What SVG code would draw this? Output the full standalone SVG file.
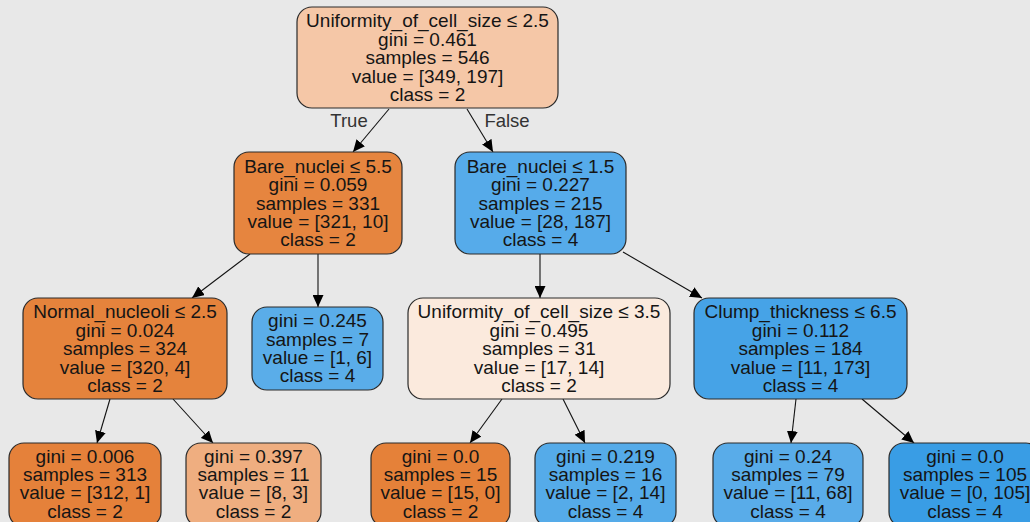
<svg xmlns="http://www.w3.org/2000/svg" width="1030" height="522" viewBox="0 0 1030 522">
<style>
.n rect{stroke:#2a2a2a;stroke-width:1.2}
text{font-family:"Liberation Sans",Arial,sans-serif;font-size:19px;fill:#151515;text-anchor:middle}
.lbl{font-size:18.5px;fill:#333}
.e line{stroke:#111;stroke-width:1.1;marker-end:url(#ah)}
</style>
<defs>
<marker id="ah" markerUnits="userSpaceOnUse" markerWidth="12" markerHeight="11" refX="12" refY="5.5" orient="auto">
<path d="M0,0 L12,5.5 L0,11 z" fill="#000"/>
</marker>
</defs>
<rect width="1030" height="522" fill="#e8e8e8"/>
<g id="connectors" class="e">
<line x1="389" y1="109" x2="353" y2="152"/>
<line x1="467" y1="109" x2="493" y2="152"/>
<line x1="250" y1="254" x2="192" y2="298"/>
<line x1="318" y1="254" x2="318" y2="307"/>
<line x1="540" y1="254" x2="540" y2="298"/>
<line x1="623" y1="252" x2="702" y2="298"/>
<line x1="110" y1="399" x2="97" y2="443"/>
<line x1="173" y1="399" x2="213" y2="443"/>
<line x1="502" y1="399" x2="470" y2="443"/>
<line x1="563" y1="399" x2="585" y2="443"/>
<line x1="796" y1="399" x2="791" y2="443"/>
<line x1="862" y1="399" x2="914" y2="443"/>
<text class="lbl" x="349" y="127">True</text>
<text class="lbl" x="507" y="127">False</text>
</g>
<g id="n0" class="n"><rect x="297" y="7" width="261" height="101" rx="15" fill="#f5c7a7"/>
<text x="427.5" y="27">Uniformity_of_cell_size ≤ 2.5</text><text x="427.5" y="46">gini = 0.461</text><text x="427.5" y="64">samples = 546</text><text x="427.5" y="82.5">value = [349, 197]</text><text x="427.5" y="101">class = 2</text></g>
<g id="n1" class="n"><rect x="234" y="152" width="168" height="102" rx="15" fill="#e6853f"/>
<text x="318" y="172.5">Bare_nuclei ≤ 5.5</text><text x="318" y="191">gini = 0.059</text><text x="318" y="209.5">samples = 331</text><text x="318" y="228">value = [321, 10]</text><text x="318" y="246">class = 2</text></g>
<g id="n2" class="n"><rect x="455" y="152" width="171" height="102" rx="15" fill="#56abea"/>
<text x="540.5" y="172.5">Bare_nuclei ≤ 1.5</text><text x="540.5" y="191">gini = 0.227</text><text x="540.5" y="209.5">samples = 215</text><text x="540.5" y="228">value = [28, 187]</text><text x="540.5" y="246">class = 4</text></g>
<g id="n3" class="n"><rect x="23" y="298" width="204" height="101" rx="15" fill="#e5833c"/>
<text x="125" y="318">Normal_nucleoli ≤ 2.5</text><text x="125" y="337">gini = 0.024</text><text x="125" y="355">samples = 324</text><text x="125" y="373.5">value = [320, 4]</text><text x="125" y="392">class = 2</text></g>
<g id="n4" class="n"><rect x="252" y="307" width="131" height="83" rx="15" fill="#5aade9"/>
<text x="317.5" y="327">gini = 0.245</text><text x="317.5" y="345.5">samples = 7</text><text x="317.5" y="364">value = [1, 6]</text><text x="317.5" y="382">class = 4</text></g>
<g id="n5" class="n"><rect x="408" y="298" width="262" height="101" rx="15" fill="#fbeadd"/>
<text x="539" y="318">Uniformity_of_cell_size ≤ 3.5</text><text x="539" y="337">gini = 0.495</text><text x="539" y="355">samples = 31</text><text x="539" y="373.5">value = [17, 14]</text><text x="539" y="392">class = 2</text></g>
<g id="n6" class="n"><rect x="694" y="298" width="213" height="101" rx="15" fill="#46a3e7"/>
<text x="800.5" y="318">Clump_thickness ≤ 6.5</text><text x="800.5" y="337">gini = 0.112</text><text x="800.5" y="355">samples = 184</text><text x="800.5" y="373.5">value = [11, 173]</text><text x="800.5" y="392">class = 4</text></g>
<g id="n7" class="n"><rect x="9" y="443" width="152" height="84" rx="15" fill="#e5813a"/>
<text x="85" y="462.5">gini = 0.006</text><text x="85" y="481">samples = 313</text><text x="85" y="499">value = [312, 1]</text><text x="85" y="517.5">class = 2</text></g>
<g id="n8" class="n"><rect x="186" y="443" width="135" height="84" rx="15" fill="#efae80"/>
<text x="253.5" y="462.5">gini = 0.397</text><text x="253.5" y="481">samples = 11</text><text x="253.5" y="499">value = [8, 3]</text><text x="253.5" y="517.5">class = 2</text></g>
<g id="n9" class="n"><rect x="371" y="443" width="139" height="84" rx="15" fill="#e58139"/>
<text x="440.5" y="462.5">gini = 0.0</text><text x="440.5" y="481">samples = 15</text><text x="440.5" y="499">value = [15, 0]</text><text x="440.5" y="517.5">class = 2</text></g>
<g id="n10" class="n"><rect x="535" y="443" width="141" height="84" rx="15" fill="#55abe9"/>
<text x="605.5" y="462.5">gini = 0.219</text><text x="605.5" y="481">samples = 16</text><text x="605.5" y="499">value = [2, 14]</text><text x="605.5" y="517.5">class = 4</text></g>
<g id="n11" class="n"><rect x="713" y="443" width="150" height="84" rx="15" fill="#59ace9"/>
<text x="788" y="462.5">gini = 0.24</text><text x="788" y="481">samples = 79</text><text x="788" y="499">value = [11, 68]</text><text x="788" y="517.5">class = 4</text></g>
<g id="n12" class="n"><rect x="889" y="443" width="152" height="84" rx="15" fill="#399de5"/>
<text x="965" y="462.5">gini = 0.0</text><text x="965" y="481">samples = 105</text><text x="965" y="499">value = [0, 105]</text><text x="965" y="517.5">class = 4</text></g>
</svg>
